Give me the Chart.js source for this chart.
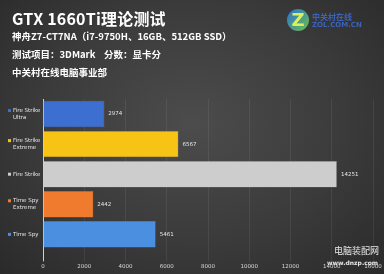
<!DOCTYPE html>
<html>
<head>
<meta charset="utf-8">
<script src="https://cdn.jsdelivr.net/npm/chart.js@4/dist/chart.umd.min.js"></script>
<style>
  html, body { margin: 0; padding: 0; }
  body {
    width: 384px; height: 274px; overflow: hidden; position: relative;
    background: radial-gradient(ellipse at 50% 45%, #4c4c4c 0%, #3b3b3b 55%, #2a2a2a 100%);
    font-family: "Noto Sans CJK SC", "Noto Sans", sans-serif;
    color: #fff;
  }
  .txt { position: absolute; left: 12px; white-space: nowrap; font-weight: bold; }
  #t1 { top: 6px; font-size: 16px; letter-spacing: 0.2px; }
  #t2 { top: 29px; font-size: 9.5px; }
  #t3 { top: 47px; font-size: 9.5px; }
  #t4 { top: 65px; font-size: 9.5px; }
  #logo { position: absolute; left: 287px; top: 9px; width: 80px; height: 24px; }
  #logo .z { position: absolute; left: 0; top: 0; width: 22px; height: 22px; border-radius: 50%;
    background: linear-gradient(135deg, #2a6fd6, #6cc04a); color: #d8f060; font-weight: bold;
    font-size: 18px; line-height: 22px; text-align: center; font-family: "DejaVu Sans", sans-serif; }
  #logo .a { position: absolute; left: 25px; top: 2px; font-size: 8px; color: #3b63b8; font-weight: bold; }
  #logo .b { position: absolute; left: 25px; top: 12px; font-size: 7px; color: #3b63b8; font-weight: bold; font-family: "DejaVu Sans", sans-serif; }
  #wm1 { position: absolute; left: 334px; top: 244px; font-size: 9px; color: #e8e8e8; }
  #wm2 { position: absolute; left: 327px; top: 259px; font-size: 6px; color: #e8e8e8; font-family: "DejaVu Sans", sans-serif; font-weight: bold; }
  #chart { position: absolute; left: 0; top: 0; }
</style>
</head>
<body>
<canvas id="chart" width="384" height="274"></canvas>
<div class="txt" id="t1">GTX 1660Ti理论测试</div>
<div class="txt" id="t2">神舟Z7-CT7NA（i7-9750H、16GB、512GB SSD）</div>
<div class="txt" id="t3">测试项目：3DMark&nbsp;&nbsp;&nbsp;&nbsp;分数：显卡分</div>
<div class="txt" id="t4">中关村在线电脑事业部</div>
<div id="logo"><div class="z">Z</div><div class="a">中关村在线</div><div class="b">ZOL.COM.CN</div></div>
<div id="wm1">电脑装配网</div>
<div id="wm2">www.dnzp.com</div>
<script>
const labels = [["Fire Strike", "Ultra"], ["Fire Strike", "Extreme"], "Fire Strike", ["Time Spy", "Extreme"], "Time Spy"];
const scores = [2974, 6567, 14251, 2442, 5461];
const barColors = ["#3d6fd1", "#f7c416", "#cdcdcd", "#f07b2e", "#4a8fe0"];
const xTicks = [0, 2000, 4000, 6000, 8000, 10000, 12000, 14000, 16000];

const extras = {
  id: "extras",
  afterDatasetsDraw(chart) {
    const ctx = chart.ctx;
    const meta = chart.getDatasetMeta(0);
    ctx.save();
    ctx.font = "5.5px 'DejaVu Sans', sans-serif";
    ctx.textBaseline = "middle";
    ctx.textAlign = "left";
    meta.data.forEach((bar, i) => {
      ctx.fillStyle = "#e6e6e6";
      ctx.fillText(String(scores[i]), bar.x + 4, bar.y);
      // colored marker in front of category label
      ctx.fillStyle = barColors[i];
      const lines = Array.isArray(labels[i]) ? labels[i].length : 1;
      const yy = lines > 1 ? bar.y - 3.5 : bar.y;
      ctx.fillRect(8, yy - 1.5, 3, 3);
    });
    ctx.restore();
  }
};

new Chart(document.getElementById("chart"), {
  type: "bar",
  data: {
    labels: labels,
    datasets: [{
      data: scores,
      backgroundColor: barColors,
      borderColor: "rgba(255,255,255,0.35)",
      borderWidth: 0.5,
      barPercentage: 0.88,
      categoryPercentage: 1.0
    }]
  },
  options: {
    indexAxis: "y",
    responsive: false,
    animation: false,
    layout: { padding: { top: 99, right: 11, bottom: 2, left: 13 } },
    plugins: { legend: { display: false }, tooltip: { enabled: false } },
    scales: {
      x: {
        min: 0, max: 16000,
        afterBuildTicks(scale) { scale.ticks = xTicks.map(v => ({ value: v })); },
        afterFit(scale) { scale.paddingRight = 0; scale.paddingLeft = 0; },
        grid: {
          color: ctx => ctx.index === 0 ? "#d0d0d0" : "rgba(255,255,255,0.07)",
          drawTicks: true, tickLength: 12
        },
        border: { display: false },
        ticks: {
          color: "#d8d8d8", font: { size: 5.5, family: "DejaVu Sans" }, padding: 2,
          callback: v => String(v)
        }
      },
      y: {
        afterFit(scale) { scale.width = 30; },
        grid: { display: false },
        border: { display: true, color: "#d0d0d0", width: 1 },
        ticks: {
          color: "#e6e6e6",
          font: { size: 5.5, family: "DejaVu Sans" },
          crossAlign: "far",
          padding: 2
        }
      }
    }
  },
  plugins: [extras]
});
</script>
</body>
</html>
